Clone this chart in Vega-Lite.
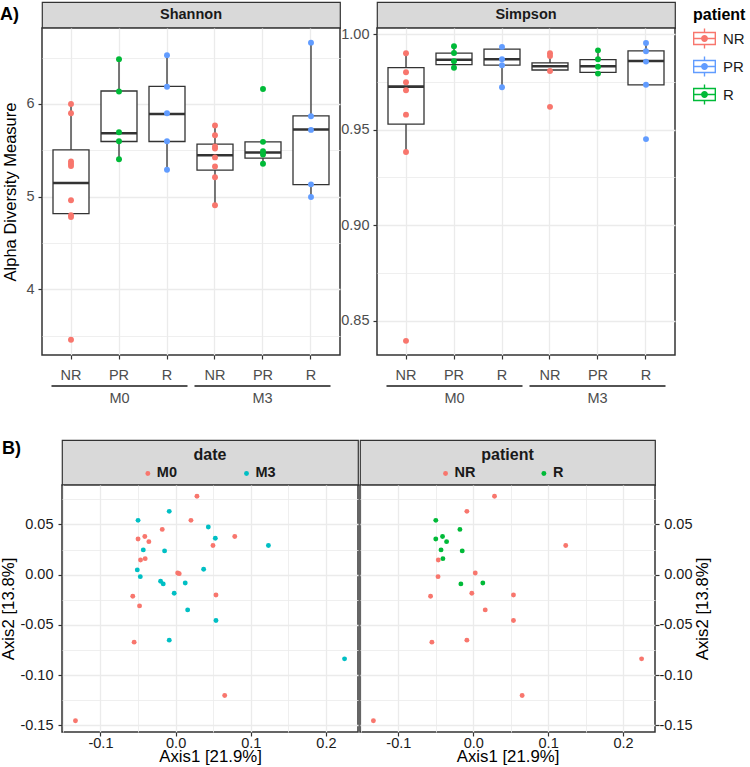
{
 "$schema": "https://vega.github.io/schema/vega-lite/v6.json",
 "padding": {"left": -1, "top": 1, "right": 0, "bottom": 0},
 "config": {
  "font": "Liberation Sans",
  "view": {"stroke": null},
  "axis": {"labelFont": "Liberation Sans", "titleFont": "Liberation Sans", "gridColor": "#EBEBEB", "gridWidth": 1.3, "domain": false, "tickColor": "#333333", "tickSize": 4, "tickWidth": 1.2, "labelFontSize": 14.5, "titleFontSize": 16.5, "titleFontWeight": "normal", "titleColor": "#000000", "labelColor": "#4D4D4D", "labelPadding": 4},
  "legend": {"labelFont": "Liberation Sans", "titleFont": "Liberation Sans"}
 },
 "datasets": {
  "box": [
   {"m": "Shannon", "g": "M0 NR", "lo": 4.78, "q1": 4.817, "med": 5.146, "q3": 5.505, "hi": 6.0},
   {"m": "Shannon", "g": "M0 PR", "lo": 5.404, "q1": 5.595, "med": 5.684, "q3": 6.14, "hi": 6.484},
   {"m": "Shannon", "g": "M0 R", "lo": 5.29, "q1": 5.595, "med": 5.892, "q3": 6.19, "hi": 6.527},
   {"m": "Shannon", "g": "M3 NR", "lo": 4.906, "q1": 5.286, "med": 5.447, "q3": 5.566, "hi": 5.767},
   {"m": "Shannon", "g": "M3 PR", "lo": 5.355, "q1": 5.415, "med": 5.476, "q3": 5.591, "hi": 5.591},
   {"m": "Shannon", "g": "M3 R", "lo": 4.996, "q1": 5.129, "med": 5.724, "q3": 5.871, "hi": 6.662},
   {"m": "Simpson", "g": "M0 NR", "lo": 0.9383, "q1": 0.9529, "med": 0.9726, "q3": 0.9825, "hi": 0.9901},
   {"m": "Simpson", "g": "M0 PR", "lo": 0.9825, "q1": 0.9841, "med": 0.9867, "q3": 0.9901, "hi": 0.9937},
   {"m": "Simpson", "g": "M0 R", "lo": 0.9723, "q1": 0.9839, "med": 0.9869, "q3": 0.9922, "hi": 0.9934},
   {"m": "Simpson", "g": "M3 NR", "lo": 0.9808, "q1": 0.9813, "med": 0.9833, "q3": 0.985, "hi": 0.989},
   {"m": "Simpson", "g": "M3 PR", "lo": 0.9794, "q1": 0.9801, "med": 0.9833, "q3": 0.9867, "hi": 0.9916},
   {"m": "Simpson", "g": "M3 R", "lo": 0.9735, "q1": 0.9735, "med": 0.986, "q3": 0.9913, "hi": 0.9954}
  ],
  "pts": [
   {"m": "Shannon", "g": "M0 NR", "patient": "NR", "v": 6.0},
   {"m": "Shannon", "g": "M0 NR", "patient": "NR", "v": 5.9},
   {"m": "Shannon", "g": "M0 NR", "patient": "NR", "v": 5.38},
   {"m": "Shannon", "g": "M0 NR", "patient": "NR", "v": 5.355},
   {"m": "Shannon", "g": "M0 NR", "patient": "NR", "v": 5.33},
   {"m": "Shannon", "g": "M0 NR", "patient": "NR", "v": 4.96},
   {"m": "Shannon", "g": "M0 NR", "patient": "NR", "v": 4.8},
   {"m": "Shannon", "g": "M0 NR", "patient": "NR", "v": 4.78},
   {"m": "Shannon", "g": "M0 NR", "patient": "NR", "v": 3.455},
   {"m": "Shannon", "g": "M0 PR", "patient": "R", "v": 6.484},
   {"m": "Shannon", "g": "M0 PR", "patient": "R", "v": 6.135},
   {"m": "Shannon", "g": "M0 PR", "patient": "R", "v": 5.695},
   {"m": "Shannon", "g": "M0 PR", "patient": "R", "v": 5.598},
   {"m": "Shannon", "g": "M0 PR", "patient": "R", "v": 5.404},
   {"m": "Shannon", "g": "M0 R", "patient": "PR", "v": 6.527},
   {"m": "Shannon", "g": "M0 R", "patient": "PR", "v": 6.186},
   {"m": "Shannon", "g": "M0 R", "patient": "PR", "v": 5.899},
   {"m": "Shannon", "g": "M0 R", "patient": "PR", "v": 5.598},
   {"m": "Shannon", "g": "M0 R", "patient": "PR", "v": 5.29},
   {"m": "Shannon", "g": "M3 NR", "patient": "NR", "v": 5.767},
   {"m": "Shannon", "g": "M3 NR", "patient": "NR", "v": 5.662},
   {"m": "Shannon", "g": "M3 NR", "patient": "NR", "v": 5.541},
   {"m": "Shannon", "g": "M3 NR", "patient": "NR", "v": 5.52},
   {"m": "Shannon", "g": "M3 NR", "patient": "NR", "v": 5.423},
   {"m": "Shannon", "g": "M3 NR", "patient": "NR", "v": 5.326},
   {"m": "Shannon", "g": "M3 NR", "patient": "NR", "v": 5.208},
   {"m": "Shannon", "g": "M3 NR", "patient": "NR", "v": 4.906},
   {"m": "Shannon", "g": "M3 PR", "patient": "R", "v": 6.161},
   {"m": "Shannon", "g": "M3 PR", "patient": "R", "v": 5.591},
   {"m": "Shannon", "g": "M3 PR", "patient": "R", "v": 5.49},
   {"m": "Shannon", "g": "M3 PR", "patient": "R", "v": 5.455},
   {"m": "Shannon", "g": "M3 PR", "patient": "R", "v": 5.355},
   {"m": "Shannon", "g": "M3 R", "patient": "PR", "v": 6.662},
   {"m": "Shannon", "g": "M3 R", "patient": "PR", "v": 5.867},
   {"m": "Shannon", "g": "M3 R", "patient": "PR", "v": 5.72},
   {"m": "Shannon", "g": "M3 R", "patient": "PR", "v": 5.132},
   {"m": "Shannon", "g": "M3 R", "patient": "PR", "v": 4.996},
   {"m": "Simpson", "g": "M0 NR", "patient": "NR", "v": 0.9901},
   {"m": "Simpson", "g": "M0 NR", "patient": "NR", "v": 0.9801},
   {"m": "Simpson", "g": "M0 NR", "patient": "NR", "v": 0.9749},
   {"m": "Simpson", "g": "M0 NR", "patient": "NR", "v": 0.9707},
   {"m": "Simpson", "g": "M0 NR", "patient": "NR", "v": 0.9579},
   {"m": "Simpson", "g": "M0 NR", "patient": "NR", "v": 0.9383},
   {"m": "Simpson", "g": "M0 NR", "patient": "NR", "v": 0.8394},
   {"m": "Simpson", "g": "M0 PR", "patient": "R", "v": 0.9937},
   {"m": "Simpson", "g": "M0 PR", "patient": "R", "v": 0.9902},
   {"m": "Simpson", "g": "M0 PR", "patient": "R", "v": 0.9859},
   {"m": "Simpson", "g": "M0 PR", "patient": "R", "v": 0.9825},
   {"m": "Simpson", "g": "M0 R", "patient": "PR", "v": 0.9934},
   {"m": "Simpson", "g": "M0 R", "patient": "PR", "v": 0.9869},
   {"m": "Simpson", "g": "M0 R", "patient": "PR", "v": 0.9838},
   {"m": "Simpson", "g": "M0 R", "patient": "PR", "v": 0.9723},
   {"m": "Simpson", "g": "M3 NR", "patient": "NR", "v": 0.9901},
   {"m": "Simpson", "g": "M3 NR", "patient": "NR", "v": 0.9886},
   {"m": "Simpson", "g": "M3 NR", "patient": "NR", "v": 0.9808},
   {"m": "Simpson", "g": "M3 NR", "patient": "NR", "v": 0.962},
   {"m": "Simpson", "g": "M3 PR", "patient": "R", "v": 0.9916},
   {"m": "Simpson", "g": "M3 PR", "patient": "R", "v": 0.9869},
   {"m": "Simpson", "g": "M3 PR", "patient": "R", "v": 0.983},
   {"m": "Simpson", "g": "M3 PR", "patient": "R", "v": 0.9794},
   {"m": "Simpson", "g": "M3 R", "patient": "PR", "v": 0.9954},
   {"m": "Simpson", "g": "M3 R", "patient": "PR", "v": 0.9911},
   {"m": "Simpson", "g": "M3 R", "patient": "PR", "v": 0.9857},
   {"m": "Simpson", "g": "M3 R", "patient": "PR", "v": 0.9736},
   {"m": "Simpson", "g": "M3 R", "patient": "PR", "v": 0.9451}
  ],
  "pcoa": [
   {"date": "M0", "patient": "NR", "x": 0.0284, "y": 0.078},
   {"date": "M0", "patient": "PR", "x": 0.0204, "y": 0.054},
   {"date": "M0", "patient": "R", "x": -0.0178, "y": 0.045},
   {"date": "M0", "patient": "R", "x": -0.05, "y": 0.0355},
   {"date": "M0", "patient": "R", "x": -0.041, "y": 0.038},
   {"date": "M0", "patient": "R", "x": -0.0356, "y": 0.0328},
   {"date": "M0", "patient": "PR", "x": 0.0787, "y": 0.038},
   {"date": "M0", "patient": "PR", "x": 0.0497, "y": 0.029},
   {"date": "M0", "patient": "NR", "x": -0.0467, "y": 0.0146},
   {"date": "M0", "patient": "R", "x": -0.0405, "y": 0.0159},
   {"date": "M0", "patient": "NR", "x": 0.0027, "y": 0.0017},
   {"date": "M0", "patient": "PR", "x": 0.0048, "y": 0.001},
   {"date": "M0", "patient": "NR", "x": -0.057, "y": -0.0215},
   {"date": "M0", "patient": "NR", "x": 0.0537, "y": -0.0202},
   {"date": "M0", "patient": "PR", "x": -0.048, "y": -0.0311},
   {"date": "M0", "patient": "NR", "x": -0.0552, "y": -0.0672},
   {"date": "M0", "patient": "NR", "x": 0.0653, "y": -0.1203},
   {"date": "M0", "patient": "NR", "x": -0.1333, "y": -0.1454},
   {"date": "M3", "patient": "R", "x": -0.05, "y": 0.054},
   {"date": "M3", "patient": "NR", "x": -0.0085, "y": 0.063},
   {"date": "M3", "patient": "PR", "x": 0.0435, "y": 0.0474},
   {"date": "M3", "patient": "PR", "x": 0.0528, "y": 0.0362},
   {"date": "M3", "patient": "NR", "x": 0.1235, "y": 0.029},
   {"date": "M3", "patient": "R", "x": -0.043, "y": 0.0246},
   {"date": "M3", "patient": "R", "x": -0.0147, "y": 0.0236},
   {"date": "M3", "patient": "PR", "x": -0.051, "y": 0.0047},
   {"date": "M3", "patient": "PR", "x": 0.0373, "y": 0.0053},
   {"date": "M3", "patient": "NR", "x": -0.047, "y": -0.002},
   {"date": "M3", "patient": "PR", "x": -0.02, "y": -0.0066},
   {"date": "M3", "patient": "R", "x": -0.0165, "y": -0.0092},
   {"date": "M3", "patient": "R", "x": 0.0128, "y": -0.0083},
   {"date": "M3", "patient": "NR", "x": -0.0019, "y": -0.0185},
   {"date": "M3", "patient": "NR", "x": 0.016, "y": -0.0351},
   {"date": "M3", "patient": "NR", "x": 0.0537, "y": -0.0457},
   {"date": "M3", "patient": "NR", "x": -0.0085, "y": -0.0652},
   {"date": "M3", "patient": "NR", "x": 0.2248, "y": -0.0838}
  ]
 },
 "resolve": {"scale": {"color": "independent", "x": "independent", "y": "independent"}},
 "spacing": 21,
 "vconcat": [
  {
   "spacing": -1,
   "resolve": {"scale": {"x": "independent", "y": "independent"}},
   "hconcat": [
    {
     "bounds": "flush",
     "spacing": 0,
     "resolve": {"scale": {"x": "independent", "y": "independent"}},
     "vconcat": [
      {
       "width": 298, "height": 26,
       "view": {"fill": "#D9D9D9", "stroke": "#333333", "strokeWidth": 1.2},
       "title": {"text": "A)", "orient": "left", "angle": 0, "anchor": "middle", "align": "left", "baseline": "middle", "offset": 23, "fontSize": 18, "fontWeight": "bold", "color": "#000000"},
       "data": {"values": [{"t": "Shannon"}]},
       "mark": {"type": "text", "fontSize": 14.5, "fontWeight": "bold", "color": "#1A1A1A"},
       "encoding": {"text": {"field": "t"}}
      },
      {
       "width": 298, "height": 327,
       "view": {"fill": "#FFFFFF", "stroke": "#333333", "strokeWidth": 1.5},
       "encoding": {"x": {"field": "g", "type": "nominal", "title": null,
          "scale": {"type": "band", "domain": ["M0 NR", "M0 PR", "M0 R", "M3 NR", "M3 PR", "M3 R"], "paddingInner": 0.25, "paddingOuter": 0.2292},
          "axis": {"title": null, "bandPosition": 0.5, "grid": true, "labelExpr": "split(datum.value, ' ')[1]", "labelAngle": 0, "labelPadding": 9}}},
       "layer": [
        {"data": {"name": "box"}, "transform": [{"filter": "datum.m == 'Shannon'"}],
         "mark": {"type": "rule", "color": "#333333", "strokeWidth": 1.3},
         "encoding": {"y": {"field": "lo", "type": "quantitative", "title": "Alpha Diversity Measure", "scale": {"domain": [3.29, 6.82], "nice": false, "zero": false},
            "axis": {"title": "Alpha Diversity Measure", "titlePadding": 7, "values": [3.5, 4, 4.5, 5, 5.5, 6, 6.5],
              "labelExpr": "round(datum.value*2)%2==0 ? format(datum.value,'d') : ''",
              "tickOpacity": {"condition": {"test": "round(datum.value*2)%2!=0", "value": 0}, "value": 1},
              "gridWidth": {"condition": {"test": "round(datum.value*2)%2!=0", "value": 0.8}, "value": 1.3}}},
           "y2": {"field": "hi"}}},
        {"data": {"name": "box"}, "transform": [{"filter": "datum.m == 'Shannon'"}],
         "mark": {"type": "bar", "fill": "#FFFFFF", "stroke": "#333333", "strokeWidth": 1.3},
         "encoding": {"y": {"field": "q1", "type": "quantitative", "title": "Alpha Diversity Measure", "scale": {"domain": [3.29, 6.82], "nice": false, "zero": false}}, "y2": {"field": "q3"}}},
        {"data": {"name": "box"}, "transform": [{"filter": "datum.m == 'Shannon'"}],
         "mark": {"type": "bar", "fill": "#333333", "stroke": "#333333", "strokeWidth": 2.6},
         "encoding": {"y": {"field": "med", "type": "quantitative", "title": "Alpha Diversity Measure", "scale": {"domain": [3.29, 6.82], "nice": false, "zero": false}}, "y2": {"field": "med"}}},
        {"data": {"name": "pts"}, "transform": [{"filter": "datum.m == 'Shannon'"}],
         "mark": {"type": "point", "filled": true, "size": 35, "opacity": 1},
         "encoding": {"y": {"field": "v", "type": "quantitative", "title": "Alpha Diversity Measure", "scale": {"domain": [3.29, 6.82], "nice": false, "zero": false}},
           "color": {"field": "patient", "type": "nominal", "scale": {"domain": ["NR", "PR", "R"], "range": ["#F8766D", "#619CFF", "#00BA38"]},
             "legend": {"title": "patient", "titleFontSize": 16, "titleFontWeight": "bold", "titleColor": "#000000", "labelFontSize": 15, "labelColor": "#1A1A1A",
               "symbolType": "M-1,-0.58L1,-0.58L1,0.58L-1,0.58Z M-0.88,-0.46L-0.88,0.46L0.88,0.46L0.88,-0.46Z M-0.88,-0.06L0.88,-0.06L0.88,0.06L-0.88,0.06Z M-0.06,-0.87L0.06,-0.87L0.06,-0.58L-0.06,-0.58Z M-0.06,0.58L0.06,0.58L0.06,0.87L-0.06,0.87Z M0.3,0A0.3,0.3,0,1,1,-0.3,0A0.3,0.3,0,1,1,0.3,0Z",
               "symbolSize": 529, "symbolStrokeWidth": 0, "rowPadding": 6, "titlePadding": 4, "labelOffset": 7, "offset": 12, "padding": 5}}}}
       ]
      },
      {
       "width": 298, "height": 62,
       "data": {"values": [{"date": "M0"}, {"date": "M3"}]},
       "layer": [
        {"mark": {"type": "rule", "color": "#1A1A1A", "strokeWidth": 1.6},
         "encoding": {"x": {"field": "date", "type": "nominal", "bandPosition": 0, "scale": {"type": "band", "domain": ["M0", "M3"], "paddingInner": 0.049, "paddingOuter": 0.0664}, "axis": null},
           "x2": {"field": "date", "bandPosition": 1}}},
        {"mark": {"type": "text", "dy": 13, "fontSize": 14.5, "color": "#4D4D4D"},
         "encoding": {"x": {"field": "date", "type": "nominal", "scale": {"type": "band", "domain": ["M0", "M3"], "paddingInner": 0.049, "paddingOuter": 0.0664}, "axis": null},
           "text": {"field": "date"}}}
       ]
      }
     ]
    },
    {
     "bounds": "flush",
     "spacing": 0,
     "resolve": {"scale": {"x": "independent", "y": "independent"}},
     "vconcat": [
      {
       "width": 298, "height": 26,
       "view": {"fill": "#D9D9D9", "stroke": "#333333", "strokeWidth": 1.2},
       "data": {"values": [{"t": "Simpson"}]},
       "mark": {"type": "text", "fontSize": 14.5, "fontWeight": "bold", "color": "#1A1A1A"},
       "encoding": {"text": {"field": "t"}}
      },
      {
       "width": 298, "height": 327,
       "view": {"fill": "#FFFFFF", "stroke": "#333333", "strokeWidth": 1.5},
       "encoding": {"x": {"field": "g", "type": "nominal", "title": null,
          "scale": {"type": "band", "domain": ["M0 NR", "M0 PR", "M0 R", "M3 NR", "M3 PR", "M3 R"], "paddingInner": 0.25, "paddingOuter": 0.2292},
          "axis": {"title": null, "bandPosition": 0.5, "grid": true, "labelExpr": "split(datum.value, ' ')[1]", "labelAngle": 0, "labelPadding": 9}}},
       "layer": [
        {"data": {"name": "box"}, "transform": [{"filter": "datum.m == 'Simpson'"}],
         "mark": {"type": "rule", "color": "#333333", "strokeWidth": 1.3},
         "encoding": {"y": {"field": "lo", "type": "quantitative", "title": null, "scale": {"domain": [0.832, 1.0033], "nice": false, "zero": false},
            "axis": {"title": null, "values": [0.85, 0.875, 0.9, 0.925, 0.95, 0.975, 1.0],
              "labelExpr": "round(datum.value*200)%10==0 ? format(datum.value,'.2f') : ''",
              "tickOpacity": {"condition": {"test": "round(datum.value*200)%10!=0", "value": 0}, "value": 1},
              "gridWidth": {"condition": {"test": "round(datum.value*200)%10!=0", "value": 0.8}, "value": 1.3}}},
           "y2": {"field": "hi"}}},
        {"data": {"name": "box"}, "transform": [{"filter": "datum.m == 'Simpson'"}],
         "mark": {"type": "bar", "fill": "#FFFFFF", "stroke": "#333333", "strokeWidth": 1.3},
         "encoding": {"y": {"field": "q1", "type": "quantitative", "title": null, "scale": {"domain": [0.832, 1.0033], "nice": false, "zero": false}}, "y2": {"field": "q3"}}},
        {"data": {"name": "box"}, "transform": [{"filter": "datum.m == 'Simpson'"}],
         "mark": {"type": "bar", "fill": "#333333", "stroke": "#333333", "strokeWidth": 2.6},
         "encoding": {"y": {"field": "med", "type": "quantitative", "title": null, "scale": {"domain": [0.832, 1.0033], "nice": false, "zero": false}}, "y2": {"field": "med"}}},
        {"data": {"name": "pts"}, "transform": [{"filter": "datum.m == 'Simpson'"}],
         "mark": {"type": "point", "filled": true, "size": 35, "opacity": 1},
         "encoding": {"y": {"field": "v", "type": "quantitative", "title": null, "scale": {"domain": [0.832, 1.0033], "nice": false, "zero": false}},
           "color": {"field": "patient", "type": "nominal", "scale": {"domain": ["NR", "PR", "R"], "range": ["#F8766D", "#619CFF", "#00BA38"]},
             "legend": {"title": "patient", "titleFontSize": 16, "titleFontWeight": "bold", "titleColor": "#000000", "labelFontSize": 15, "labelColor": "#1A1A1A",
               "symbolType": "M-1,-0.58L1,-0.58L1,0.58L-1,0.58Z M-0.88,-0.46L-0.88,0.46L0.88,0.46L0.88,-0.46Z M-0.88,-0.06L0.88,-0.06L0.88,0.06L-0.88,0.06Z M-0.06,-0.87L0.06,-0.87L0.06,-0.58L-0.06,-0.58Z M-0.06,0.58L0.06,0.58L0.06,0.87L-0.06,0.87Z M0.3,0A0.3,0.3,0,1,1,-0.3,0A0.3,0.3,0,1,1,0.3,0Z",
               "symbolSize": 529, "symbolStrokeWidth": 0, "rowPadding": 6, "titlePadding": 4, "labelOffset": 7, "offset": 12, "padding": 5}}}}
       ]
      },
      {
       "width": 298, "height": 62,
       "data": {"values": [{"date": "M0"}, {"date": "M3"}]},
       "layer": [
        {"mark": {"type": "rule", "color": "#1A1A1A", "strokeWidth": 1.6},
         "encoding": {"x": {"field": "date", "type": "nominal", "bandPosition": 0, "scale": {"type": "band", "domain": ["M0", "M3"], "paddingInner": 0.049, "paddingOuter": 0.0664}, "axis": null},
           "x2": {"field": "date", "bandPosition": 1}}},
        {"mark": {"type": "text", "dy": 13, "fontSize": 14.5, "color": "#4D4D4D"},
         "encoding": {"x": {"field": "date", "type": "nominal", "scale": {"type": "band", "domain": ["M0", "M3"], "paddingInner": 0.049, "paddingOuter": 0.0664}, "axis": null},
           "text": {"field": "date"}}}
       ]
      }
     ]
    }
   ]
  },
  {
   "spacing": -43,
   "resolve": {"scale": {"color": "independent", "x": "independent", "y": "independent"}},
   "hconcat": [
    {"width": 1, "height": 1, "data": {"values": []}, "mark": "point"},
    {
     "spacing": 0,
     "resolve": {"scale": {"color": "independent", "x": "independent", "y": "independent"}},
     "hconcat": [
      {
       "bounds": "flush",
       "spacing": 0,
       "resolve": {"scale": {"x": "independent", "y": "independent"}},
       "vconcat": [
        {
         "width": 296, "height": 45,
         "view": {"fill": "#D9D9D9", "stroke": "#333333", "strokeWidth": 1.2},
         "title": {"text": "B)", "orient": "left", "angle": 0, "anchor": "middle", "align": "left", "baseline": "middle", "offset": 41, "dy": -14, "fontSize": 18, "fontWeight": "bold", "color": "#000000"},
         "layer": [
          {"data": {"values": [{"t": "date"}]},
           "mark": {"type": "text", "fontSize": 16, "fontWeight": "bold", "dy": -8, "color": "#1A1A1A"},
           "encoding": {"text": {"field": "t"}}},
          {"data": {"values": [{"date": "M0"}, {"date": "M3"}]},
           "mark": {"type": "point", "filled": true, "size": 24, "opacity": 1, "yOffset": 11},
           "encoding": {"x": {"field": "date", "type": "nominal", "scale": {"type": "point", "padding": 1.71, "align": 0.435}, "axis": null},
             "color": {"field": "date", "type": "nominal", "scale": {"domain": ["M0", "M3"], "range": ["#F8766D", "#00BFC4"]}, "legend": null}}},
          {"data": {"values": [{"date": "M0"}, {"date": "M3"}]},
           "mark": {"type": "text", "align": "left", "dx": 9, "dy": 10, "fontSize": 14.5, "fontWeight": "bold", "color": "#1A1A1A"},
           "encoding": {"x": {"field": "date", "type": "nominal", "scale": {"type": "point", "padding": 1.71, "align": 0.435}, "axis": null},
             "text": {"field": "date"}}}
         ]
        },
        {
         "width": 296, "height": 247,
         "view": {"fill": "#FFFFFF", "stroke": "#333333", "strokeWidth": 1.5},
         "data": {"name": "pcoa"},
         "mark": {"type": "point", "filled": true, "size": 24, "opacity": 1},
         "encoding": {
          "x": {"field": "x", "type": "quantitative", "scale": {"domain": [-0.1512, 0.2427], "nice": false, "zero": false},
            "axis": {"title": "Axis1 [21.9%]", "titleFontSize": 16.8, "titlePadding": -1, "labelColor": "#1A1A1A", "labelPadding": 0,
              "values": [-0.15, -0.1, -0.05, 0, 0.05, 0.1, 0.15, 0.2],
              "labelExpr": "round(datum.value*20)%2!=0 ? '' : (datum.value<0 ? '-' : '') + format(abs(datum.value),'.1f')",
              "tickOpacity": {"condition": {"test": "round(datum.value*20)%2!=0", "value": 0}, "value": 1},
              "gridWidth": {"condition": {"test": "round(datum.value*20)%2!=0", "value": 0.8}, "value": 1.3}}},
          "y": {"field": "y", "type": "quantitative", "scale": {"domain": [-0.1566, 0.0892], "nice": false, "zero": false},
            "axis": {"title": "Axis2 [13.8%]", "titleFontSize": 16.8, "titlePadding": 2, "labelColor": "#1A1A1A", "labelPadding": 5,
              "values": [-0.15, -0.125, -0.1, -0.075, -0.05, -0.025, 0, 0.025, 0.05, 0.075],
              "labelExpr": "round(datum.value*40)%2!=0 ? '' : (datum.value<0 ? '-' : '') + format(abs(datum.value),'.2f')",
              "tickOpacity": {"condition": {"test": "round(datum.value*40)%2!=0", "value": 0}, "value": 1},
              "gridWidth": {"condition": {"test": "round(datum.value*40)%2!=0", "value": 0.8}, "value": 1.3}}},
          "color": {"field": "date", "type": "nominal", "scale": {"domain": ["M0", "M3"], "range": ["#F8766D", "#00BFC4"]}, "legend": null}
         }
        }
       ]
      },
      {
       "bounds": "flush",
       "spacing": 0,
       "resolve": {"scale": {"x": "independent", "y": "independent"}},
       "vconcat": [
        {
         "width": 295, "height": 45,
         "view": {"fill": "#D9D9D9", "stroke": "#333333", "strokeWidth": 1.2},
         "layer": [
          {"data": {"values": [{"t": "patient"}]},
           "mark": {"type": "text", "fontSize": 16, "fontWeight": "bold", "dy": -8, "color": "#1A1A1A"},
           "encoding": {"text": {"field": "t"}}},
          {"data": {"values": [{"patient": "NR"}, {"patient": "R"}]},
           "mark": {"type": "point", "filled": true, "size": 24, "opacity": 1, "yOffset": 11},
           "encoding": {"x": {"field": "patient", "type": "nominal", "scale": {"type": "point", "padding": 1.71, "align": 0.435}, "axis": null},
             "color": {"field": "patient", "type": "nominal", "scale": {"domain": ["NR", "R"], "range": ["#F8766D", "#00BA38"]}, "legend": null}}},
          {"data": {"values": [{"patient": "NR"}, {"patient": "R"}]},
           "mark": {"type": "text", "align": "left", "dx": 9, "dy": 10, "fontSize": 14.5, "fontWeight": "bold", "color": "#1A1A1A"},
           "encoding": {"x": {"field": "patient", "type": "nominal", "scale": {"type": "point", "padding": 1.71, "align": 0.435}, "axis": null},
             "text": {"field": "patient"}}}
         ]
        },
        {
         "width": 295, "height": 247,
         "view": {"fill": "#FFFFFF", "stroke": "#333333", "strokeWidth": 1.5},
         "data": {"name": "pcoa"},
         "transform": [{"filter": "datum.patient != 'PR'"}],
         "mark": {"type": "point", "filled": true, "size": 24, "opacity": 1},
         "encoding": {
          "x": {"field": "x", "type": "quantitative", "scale": {"domain": [-0.1512, 0.2427], "nice": false, "zero": false},
            "axis": {"title": "Axis1 [21.9%]", "titleFontSize": 16.8, "titlePadding": -1, "labelColor": "#1A1A1A", "labelPadding": 0,
              "values": [-0.15, -0.1, -0.05, 0, 0.05, 0.1, 0.15, 0.2],
              "labelExpr": "round(datum.value*20)%2!=0 ? '' : (datum.value<0 ? '-' : '') + format(abs(datum.value),'.1f')",
              "tickOpacity": {"condition": {"test": "round(datum.value*20)%2!=0", "value": 0}, "value": 1},
              "gridWidth": {"condition": {"test": "round(datum.value*20)%2!=0", "value": 0.8}, "value": 1.3}}},
          "y": {"field": "y", "type": "quantitative", "scale": {"domain": [-0.1566, 0.0892], "nice": false, "zero": false},
            "axis": {"orient": "right", "title": "Axis2 [13.8%]", "titleAngle": 270, "titleBaseline": "top", "titleFontSize": 16.8, "titlePadding": 2, "labelColor": "#1A1A1A", "labelAlign": "right", "labelPadding": 33,
              "values": [-0.15, -0.125, -0.1, -0.075, -0.05, -0.025, 0, 0.025, 0.05, 0.075],
              "labelExpr": "round(datum.value*40)%2!=0 ? '' : (datum.value<0 ? '-' : '') + format(abs(datum.value),'.2f')",
              "tickOpacity": {"condition": {"test": "round(datum.value*40)%2!=0", "value": 0}, "value": 1},
              "gridWidth": {"condition": {"test": "round(datum.value*40)%2!=0", "value": 0.8}, "value": 1.3}}},
          "color": {"field": "patient", "type": "nominal", "scale": {"domain": ["NR", "R"], "range": ["#F8766D", "#00BA38"]}, "legend": null}
         }
        }
       ]
      }
     ]
    }
   ]
  }
 ]
}
